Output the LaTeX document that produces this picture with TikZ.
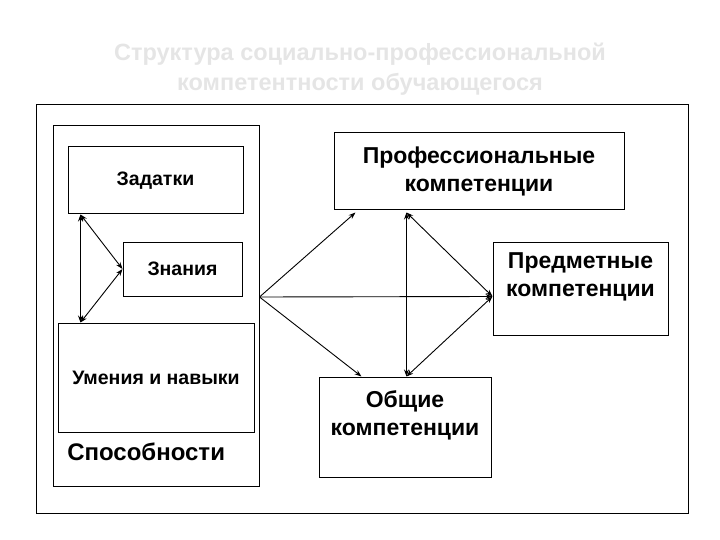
\documentclass[tikz,border=0pt]{standalone}
\usepackage{fontspec}
\setmainfont{Liberation Sans}
\usetikzlibrary{positioning, arrows.meta, calc}

\begin{document}
\begin{tikzpicture}[x=1pt, y=-1pt, >={Stealth[length=7pt, width=5pt]}, line width=0.9pt,
  box/.style={draw, line width=1pt, inner sep=0pt, align=center},
  small/.style={font=\fontsize{19.5}{23}\selectfont\bfseries},
  big/.style={font=\fontsize{23}{28}\selectfont\bfseries}]
  \useasboundingbox (0,0) rectangle (720,540);
  % Title
  \node[text=black!10, align=center, font=\fontsize{23.5}{30}\selectfont\bfseries] (title) at (360,69)
    {Структура социально-профессиональной\\компетентности обучающегося};
  \node[box, minimum width=652, minimum height=408] (frame) at (362,309) {};
  % Abilities block
  \node[box, minimum width=206, minimum height=360] (sposob) at (156,306) {};
  \node[anchor=south west, font=\fontsize{24}{28}\selectfont\bfseries] (spostxt) at ($(sposob.south west)+(11,-22)$) {Способности};
  \node[box, small, minimum width=175, minimum height=67] (zad) at (155.5,180.5) {Задатки};
  \node[box, small, minimum width=119, minimum height=54] (znan) at (182.5,269) {Знания};
  \node[box, small, minimum width=196, minimum height=109] (umen) at (156,377.5) {Умения и навыки};
  % Competences
  \node[box, big, minimum width=290, minimum height=77] (prof) at (479,171.5) {Профессиональные\\компетенции};
  \node[box, big, minimum width=175, minimum height=93] (predm) at (580.5,288.5) {Предметные\\компетенции\\[0pt]~};
  \node[box, big, minimum width=172, minimum height=100] (obsh) at (405,427) {Общие\\компетенции\\[0pt]~};
  % Arrows
  \coordinate (hub) at ($(sposob.east)+(0,-9)$);
  \draw[<->] ($(zad.south west)+(13,0)$) -- ($(umen.north west)+(23,0)$);
  \draw[<->] ($(zad.south west)+(13,0)$) -- (znan.west);
  \draw[<->] ($(umen.north west)+(23,0)$) -- (znan.west);
  \draw[->] (hub) -- ($(prof.south west)+(22,2)$);
  \draw[->] (hub) -- ($(predm.west)+(0,8)$);
  \draw[->] (hub) -- ($(obsh.north west)+(43,0)$);
  \draw[<->] ($(prof.south west)+(73,2)$) -- ($(obsh.north west)+(88,0)$);
  \draw[<->] ($(prof.south west)+(73,2)$) -- ($(predm.west)+(0,8)$);
  \draw[<->] ($(obsh.north west)+(88,0)$) -- ($(predm.west)+(0,8)$);
\end{tikzpicture}
\end{document}
